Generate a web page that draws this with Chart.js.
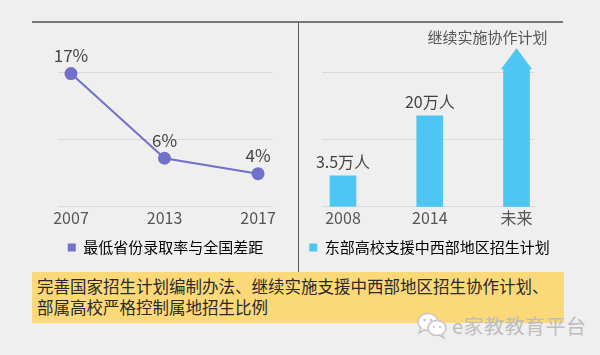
<!DOCTYPE html>
<html><head><meta charset="utf-8">
<script src="https://cdn.jsdelivr.net/npm/chart.js@4"></script>
<style>
html,body{margin:0;padding:0;width:600px;height:355px;background:#efefef;overflow:hidden;font-family:"Noto Sans CJK SC",sans-serif}
#wrapL{position:absolute;left:0;top:0;width:298px;height:265px}
#wrapR{position:absolute;left:299px;top:0;width:301px;height:265px}
.topline{position:absolute;left:32px;top:21px;width:531px;height:2px;background:#777}
.divider{position:absolute;left:298px;top:22px;width:1px;height:250px;background:#555}
.note{position:absolute;left:32px;top:272px;height:51px;background:#fbd978;color:#2a2a2a;font-size:16.5px;line-height:21px;padding:4px 0 0 5px;box-sizing:border-box;width:532px;white-space:nowrap}
.wm{position:absolute;left:452px;top:311px;font-size:20px;color:#bdbdbd;letter-spacing:0.5px;white-space:nowrap}
.wx{position:absolute;left:416px;top:311px}
</style></head>
<body>
<div class="topline"></div>
<div class="divider"></div>
<div id="wrapL"><canvas id="cL" width="298" height="265"></canvas></div>
<div id="wrapR"><canvas id="cR" width="301" height="265"></canvas></div>
<div class="note">完善国家招生计划编制办法、继续实施支援中西部地区招生协作计划、<br>部属高校严格控制属地招生比例</div>
<svg class="wx" width="32" height="28" viewBox="0 0 32 28">
  <ellipse cx="12" cy="11" rx="10" ry="8.5" fill="#fff" stroke="#c4c4c4" stroke-width="1.5"/>
  <path d="M5 17 L3 22 L9 18.5" fill="#fff" stroke="#c4c4c4" stroke-width="1.5"/>
  <ellipse cx="21" cy="17" rx="9" ry="7.5" fill="#fff" stroke="#c4c4c4" stroke-width="1.5"/>
  <path d="M26 23 L28 27 L23 24" fill="#fff" stroke="#c4c4c4" stroke-width="1.5"/>
  <circle cx="8.5" cy="9" r="1.3" fill="#c4c4c4"/><circle cx="15" cy="9" r="1.3" fill="#c4c4c4"/>
  <circle cx="18" cy="16" r="1.1" fill="#c4c4c4"/><circle cx="24" cy="16" r="1.1" fill="#c4c4c4"/>
</svg>
<div class="wm">e家教教育平台</div>
<script>
// ---- data ----
const lineCategories = ['2007', '2013', '2017'];
const lineValues = [17, 6, 4];
const lineValueLabels = ['17%', '6%', '4%'];
const lineLegend = '最低省份录取率与全国差距';
const lineGridValues = [-0.3, 8.45, 17.2];

const barCategories = ['2008', '2014', '未来'];
const barValues = [3.5, 20, 33];          // 未来: arrow reaching the top of the plot
const barValueLabels = ['3.5万人', '20万人', ''];
const barLegend = '东部高校支援中西部地区招生计划';
const arrowNote = '继续实施协作计划';
const barGridValues = [-5, 13.5, 32];

// ---- style ----
const FONT = '"Noto Sans CJK SC", sans-serif';
const PURPLE = '#7171c9';
const BLUE = '#4dc6f4';
const GRID = '#d9d9d9';

const valueLabels = {
  id: 'valueLabels',
  afterDatasetsDraw(chart, args, opts) {
    const meta = chart.getDatasetMeta(0);
    const ctx = chart.ctx;
    ctx.save();
    ctx.font = opts.font;
    ctx.fillStyle = opts.color;
    ctx.textAlign = 'center';
    ctx.textBaseline = 'middle';
    meta.data.forEach((el, i) => {
      const t = opts.texts[i];
      if (t) ctx.fillText(t, el.x, el.y - opts.offset);
    });
    ctx.restore();
  }
};

const arrowHead = {
  id: 'arrowHead',
  afterDatasetsDraw(chart, args, opts) {
    const el = chart.getDatasetMeta(0).data[opts.index];
    const ctx = chart.ctx;
    const half = el.width * 0.6;
    ctx.save();
    ctx.fillStyle = opts.color;
    ctx.beginPath();
    ctx.moveTo(el.x - half, el.y + 1);
    ctx.lineTo(el.x + half, el.y + 1);
    ctx.lineTo(el.x, el.y - 20);
    ctx.closePath();
    ctx.fill();
    ctx.font = opts.font;
    ctx.fillStyle = opts.textColor;
    ctx.textAlign = 'right';
    ctx.textBaseline = 'middle';
    ctx.fillText(opts.text, el.x + 31, el.y - 31);
    ctx.restore();
  }
};

function legendOne(text, color) {
  return {
    display: true,
    position: 'bottom',
    labels: {
      boxWidth: 8, boxHeight: 8, color: '#444', padding: 10,
      font: { family: FONT, size: 15 },
      generateLabels: () => [{ text, fillStyle: color, strokeStyle: color, lineWidth: 0, hidden: false, datasetIndex: 0 }]
    }
  };
}

function spacer(pos, w) {
  return {
    position: pos, display: true,
    ticks: { display: false }, grid: { display: false, drawTicks: false }, border: { display: false },
    afterFit: s => { s.width = w; }
  };
}

Chart.defaults.font.family = FONT;

new Chart(document.getElementById('cL'), {
  type: 'line',
  data: {
    datasets: [{
      label: lineLegend,
      data: lineValues.map((v, i) => ({ x: i, y: v })),
      borderColor: PURPLE, backgroundColor: PURPLE,
      borderWidth: 2, pointRadius: 6.5, pointBorderWidth: 0,
      pointBackgroundColor: PURPLE, clip: false, tension: 0
    }]
  },
  options: {
    responsive: false, animation: false,
    layout: { padding: { left: 58, right: 25, top: 72, bottom: 0 } },
    scales: {
      x: {
        type: 'linear', min: -0.139, max: 2.16,
        afterBuildTicks: s => { s.ticks = lineCategories.map((c, i) => ({ value: i })); },
        ticks: { callback: v => lineCategories[v], color: '#555', font: { size: 16 }, padding: 2, maxRotation: 0, autoSkip: false },
        grid: { display: false, drawTicks: false }, border: { display: false }
      },
      y: {
        min: lineGridValues[0], max: lineGridValues[lineGridValues.length - 1],
        afterBuildTicks: s => { s.ticks = lineGridValues.map(v => ({ value: v })); },
        ticks: { display: false },
        grid: { color: GRID, lineWidth: 1, drawTicks: false }, border: { display: false }
      }
    },
    plugins: {
      legend: legendOne(lineLegend, PURPLE),
      tooltip: { enabled: false },
      valueLabels: { texts: lineValueLabels, font: '17px ' + FONT, color: '#444', offset: 18 }
    }
  },
  plugins: [valueLabels]
});

new Chart(document.getElementById('cR'), {
  type: 'bar',
  data: {
    datasets: [{
      label: barLegend,
      data: barValues.map((v, i) => ({ x: i, y: v })),
      backgroundColor: BLUE, borderWidth: 0,
      barThickness: 26, base: barGridValues[0], clip: false
    }]
  },
  options: {
    responsive: false, animation: false,
    layout: { padding: { left: 0, right: 40, top: 72, bottom: 0 } },
    scales: {
      x: {
        type: 'linear', min: -0.242, max: 2.213, offset: false,
        afterBuildTicks: s => { s.ticks = barCategories.map((c, i) => ({ value: i })); },
        ticks: { callback: v => barCategories[v], color: '#555', font: { size: 16 }, padding: 2, maxRotation: 0, autoSkip: false },
        grid: { display: false, drawTicks: false }, border: { display: false }
      },
      y: {
        position: 'left',
        min: barGridValues[0], max: barGridValues[barGridValues.length - 1],
        afterBuildTicks: s => { s.ticks = barGridValues.map(v => ({ value: v })); },
        ticks: { display: false },
        grid: { color: GRID, lineWidth: 1, drawTicks: false }, border: { display: false },
        afterFit: s => { s.width = 23; }
      },
      yRightSpace: spacer('right', 25)
    },
    plugins: {
      legend: legendOne(barLegend, BLUE),
      tooltip: { enabled: false },
      valueLabels: { texts: barValueLabels, font: '16px ' + FONT, color: '#444', offset: 14 },
      arrowHead: { index: 2, color: BLUE, text: arrowNote, font: '15px ' + FONT, textColor: '#555' }
    }
  },
  plugins: [valueLabels, arrowHead]
});
</script>
</body></html>
